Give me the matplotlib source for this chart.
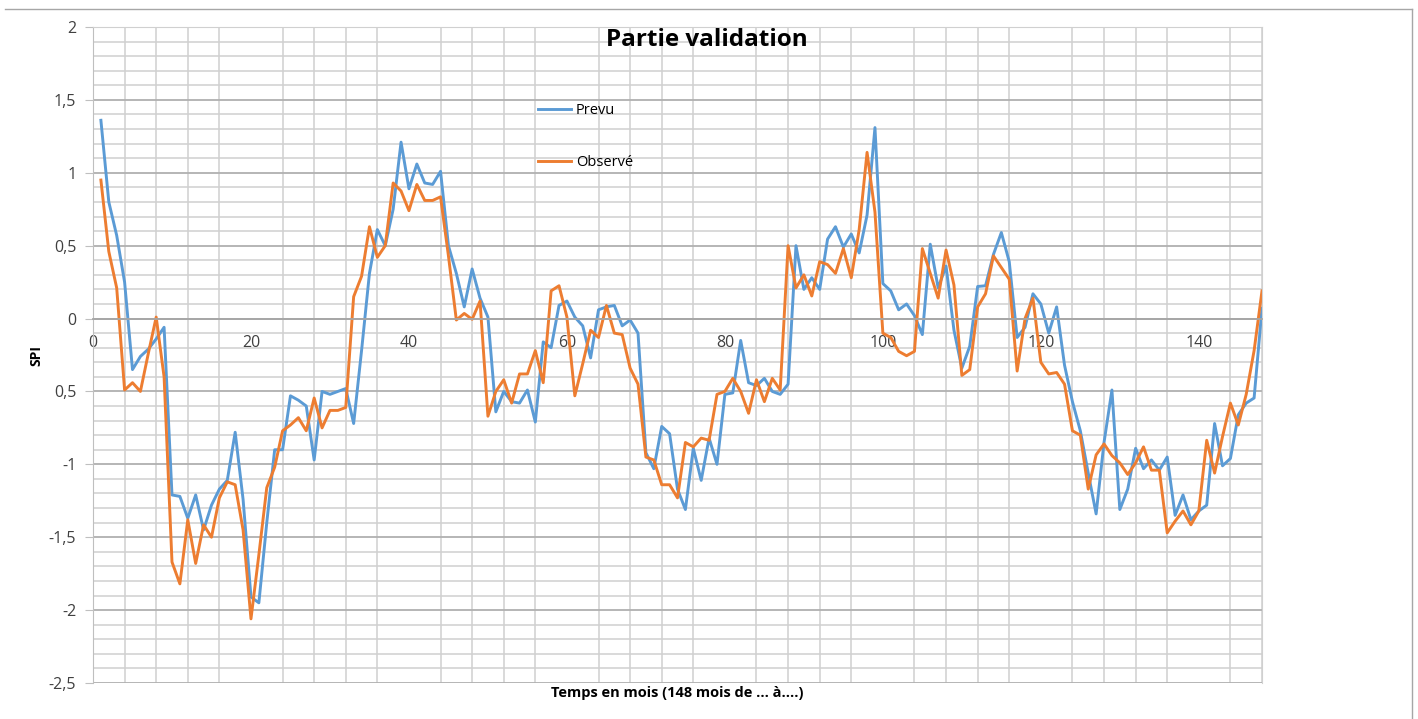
import matplotlib
matplotlib.use("Agg")
import matplotlib.pyplot as plt
from matplotlib.ticker import MultipleLocator
from matplotlib.lines import Line2D

# Data
mois = list(range(1, 149))

prevu = [
    1.36, 0.80, 0.57, 0.25, -0.35, -0.26, -0.21, -0.14, -0.06, -1.21,
    -1.22, -1.37, -1.21, -1.45, -1.28, -1.17, -1.11, -0.78, -1.24, -1.91,
    -1.95, -1.40, -0.90, -0.90, -0.53, -0.56, -0.60, -0.97, -0.50, -0.52,
    -0.50, -0.48, -0.72, -0.22, 0.31, 0.61, 0.50, 0.75, 1.21, 0.89,
    1.06, 0.93, 0.92, 1.01, 0.50, 0.31, 0.08, 0.34, 0.14, 0.01,
    -0.64, -0.50, -0.57, -0.58, -0.49, -0.71, -0.16, -0.20, 0.09, 0.12,
    0.01, -0.05, -0.27, 0.06, 0.08, 0.09, -0.05, -0.01, -0.10, -0.92,
    -1.03, -0.74, -0.79, -1.17, -1.31, -0.89, -1.11, -0.82, -1.00, -0.52,
    -0.51, -0.15, -0.44, -0.46, -0.41, -0.50, -0.52, -0.45, 0.50, 0.20,
    0.28, 0.20, 0.545, 0.63, 0.49, 0.58, 0.45, 0.71, 1.31, 0.24,
    0.19, 0.06, 0.10, 0.02, -0.11, 0.51, 0.21, 0.36, -0.08, -0.34,
    -0.19, 0.22, 0.225, 0.44, 0.59, 0.39, -0.13, -0.06, 0.17, 0.10,
    -0.10, 0.08, -0.32, -0.57, -0.77, -1.06, -1.34, -0.85, -0.49, -1.31,
    -1.17, -0.89, -1.03, -0.97, -1.04, -0.95, -1.35, -1.21, -1.38, -1.32,
    -1.28, -0.72, -1.01, -0.96, -0.66, -0.58, -0.545, 0.07,
]

observe = [
    0.95, 0.46, 0.21, -0.49, -0.44, -0.50, -0.24, 0.01, -0.40, -1.67,
    -1.82, -1.38, -1.68, -1.415, -1.50, -1.23, -1.12, -1.14, -1.45, -2.06,
    -1.62, -1.16, -1.02, -0.77, -0.73, -0.68, -0.77, -0.545, -0.75, -0.63,
    -0.63, -0.61, 0.15, 0.29, 0.63, 0.42, 0.50, 0.93, 0.875, 0.74,
    0.92, 0.81, 0.81, 0.835, 0.43, -0.01, 0.035, -0.005, 0.12, -0.67,
    -0.50, -0.42, -0.58, -0.38, -0.38, -0.22, -0.44, 0.19, 0.225, 0.01,
    -0.53, -0.31, -0.08, -0.13, 0.09, -0.10, -0.11, -0.34, -0.45, -0.95,
    -0.97, -1.14, -1.14, -1.23, -0.85, -0.88, -0.82, -0.835, -0.52, -0.50,
    -0.41, -0.50, -0.65, -0.42, -0.57, -0.41, -0.49, 0.50, 0.21, 0.30,
    0.155, 0.39, 0.37, 0.31, 0.48, 0.28, 0.61, 1.14, 0.73, -0.10,
    -0.13, -0.225, -0.255, -0.225, 0.48, 0.31, 0.14, 0.47, 0.23, -0.39,
    -0.35, 0.08, 0.17, 0.43, 0.35, 0.27, -0.36, 0.00, 0.14, -0.30,
    -0.38, -0.37, -0.45, -0.77, -0.80, -1.17, -0.935, -0.86, -0.94, -0.99,
    -1.07, -0.99, -0.88, -1.04, -1.04, -1.47, -1.39, -1.32, -1.415, -1.32,
    -0.835, -1.06, -0.81, -0.58, -0.73, -0.52, -0.22, 0.19,
]

y_ticks = [-2.5, -2, -1.5, -1, -0.5, 0, 0.5, 1, 1.5, 2]
y_tick_labels = ["-2,5", "-2", "-1,5", "-1", "0,5", "0", "0,5", "1", "1,5", "2"]
x_ticks = [0, 20, 40, 60, 80, 100, 120, 140]

plt.rcParams['font.family'] = ['Open Sans', 'DejaVu Sans']

fig = plt.figure(figsize=(14.18, 7.19), dpi=100)
ax = fig.add_axes([93 / 1418, 1 - 683 / 719, (1262 - 93) / 1418, (683 - 27) / 719])

# spreadsheet-like grid behind the chart
ax.yaxis.set_minor_locator(MultipleLocator(0.1))
ax.xaxis.set_minor_locator(MultipleLocator(4))
ax.grid(which='minor', axis='both', color='#d0d0d0', linewidth=1.1)
ax.grid(which='major', axis='y', color='#b0b0b0', linewidth=1.3)
ax.set_axisbelow(True)

ax.plot(mois, prevu, color='#5B9BD5', linewidth=2.1, label='Prevu')
ax.plot(mois, observe, color='#ED7D31', linewidth=2.1, label='Observé')

ax.set_xlim(0, 148)
ax.set_ylim(-2.5, 2)
ax.set_yticks(y_ticks)
ax.set_yticklabels(y_tick_labels)
ax.set_xticks(x_ticks)
ax.tick_params(axis='y', which='major', length=6, color='#bfbfbf', labelsize=11.5, labelcolor='#404040', pad=6)
ax.tick_params(axis='y', which='minor', length=0)
ax.tick_params(axis='x', which='both', length=0, labelsize=11.5, labelcolor='#404040', pad=12)

for side in ['top', 'right']:
    ax.spines[side].set_color('#d0d0d0')
ax.spines['left'].set_color('#bfbfbf')
ax.spines['bottom'].set_position(('data', 0))
ax.spines['bottom'].set_color('#a6a6a6')
ax.spines['bottom'].set_linewidth(1.3)

ax.set_ylabel('SPI', fontsize=10, fontweight='bold')
ax.yaxis.set_label_coords(-50 / 1169, 0.5, transform=ax.transAxes)
ax.set_xlabel('Temps en mois (148 mois de ... à....)', fontsize=10.5, fontweight='bold')
ax.xaxis.set_label_coords(0.5, -0.005, transform=ax.transAxes)
ax.xaxis.label.set_verticalalignment('top')

fig.text(707 / 1418, 1 - 40 / 719, 'Partie validation', fontsize=17.5, fontweight='bold',
         ha='center', va='center')

ax.legend(loc='upper left', bbox_to_anchor=((532 - 93) / 1169, 1 - (97 - 27) / 656),
          frameon=False, fontsize=10.5, labelspacing=2.55, handlelength=2.3,
          handletextpad=0.3, borderaxespad=0)

# chart area border (top and right edges visible)
fig.add_artist(Line2D([5 / 1418, 1412 / 1418], [1 - 9 / 719, 1 - 9 / 719], color='#a6a6a6', linewidth=1))
fig.add_artist(Line2D([1412 / 1418, 1412 / 1418], [1 - 9 / 719, 0], color='#a6a6a6', linewidth=1))

fig.savefig('out.png', dpi=100)
